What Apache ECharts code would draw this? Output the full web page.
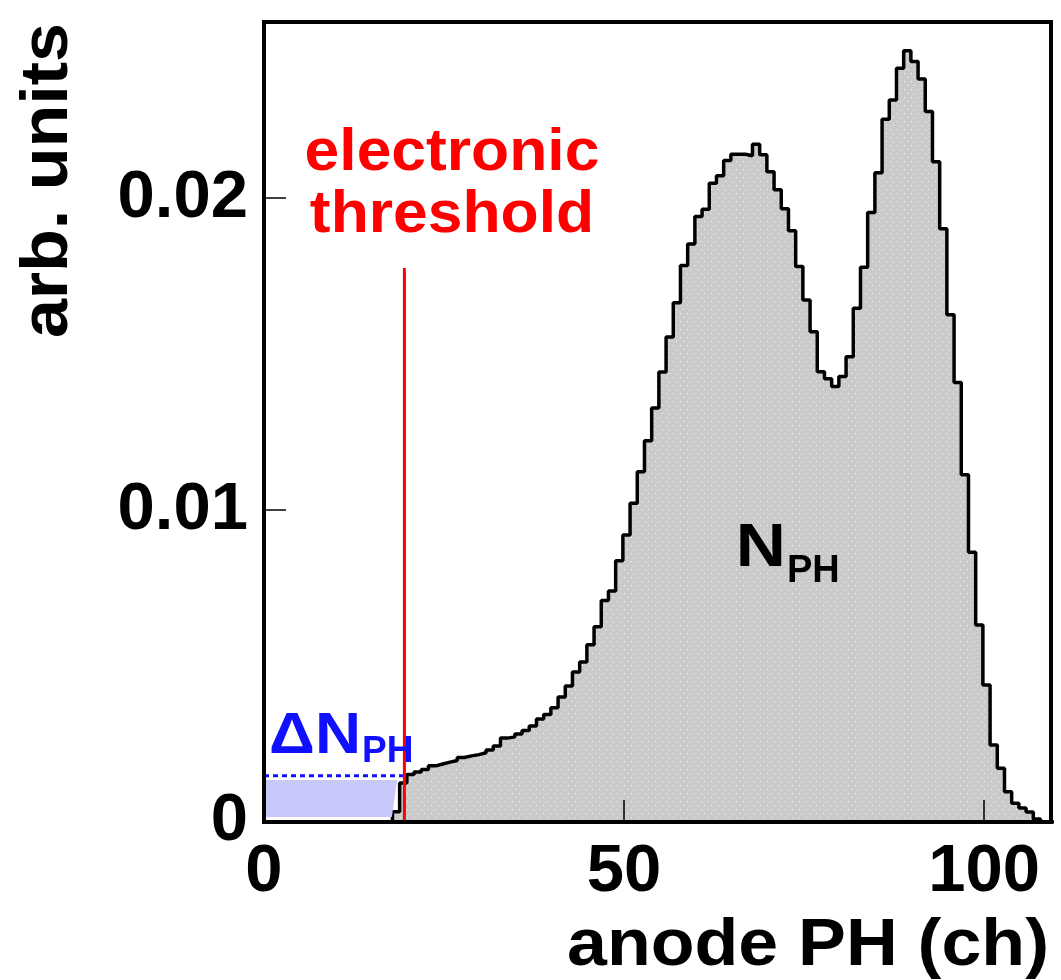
<!DOCTYPE html>
<html>
<head>
<meta charset="utf-8">
<script src="https://cdn.jsdelivr.net/npm/echarts@6/dist/echarts.min.js"></script>
<style>
  html, body { margin: 0; padding: 0; background: #ffffff; }
  #chart { width: 1061px; height: 980px; }
</style>
</head>
<body>
<div id="chart"></div>
<script>
// Anode pulse-height spectrum, one bin per channel.
// Bin k covers [k + BIN_LOW_EDGE, k + 1 + BIN_LOW_EDGE).
const BIN_LOW_EDGE = -0.16;
const counts = [
  0, 0, 0, 0, 0, 0, 0, 0, 0, 0,                                              // 0-9
  0, 0, 0, 0, 0, 0, 0, 0, 0.00033, 0.00125,                                    // 10-19
  0.00152, 0.00160, 0.00168, 0.00180, 0.00186, 0.00192, 0.00197, 0.00207, 0.00212, 0.00216, // 20-29
  0.00222, 0.00231, 0.00244, 0.00269, 0.00273, 0.00282, 0.00293, 0.00308, 0.00330, 0.00345, // 30-39
  0.00366, 0.00401, 0.00436, 0.00481, 0.00513, 0.00568, 0.00626, 0.00710, 0.00741, 0.00838, // 40-49
  0.00920, 0.01022, 0.01123, 0.01222, 0.01327, 0.01443, 0.01555, 0.01665, 0.01784, 0.01853, // 50-59
  0.01941, 0.01965, 0.02048, 0.02072, 0.02121, 0.02141, 0.02141, 0.02136, 0.02173, 0.02139, // 60-69
  0.02085, 0.02027, 0.01966, 0.01896, 0.01781, 0.01674, 0.01572, 0.01444, 0.01421, 0.01396, // 70-79
  0.01428, 0.01492, 0.01647, 0.01779, 0.01954, 0.02082, 0.02253, 0.02315, 0.02417, 0.02473, // 80-89
  0.02438, 0.02382, 0.02278, 0.02117, 0.01902, 0.01626, 0.01409, 0.01113, 0.00865, 0.00632, // 90-99
  0.00439, 0.00247, 0.00172, 0.00097, 0.00060, 0.00045, 0.00032, 0.00010, 0, 0  // 100-109
];

// Electronic threshold and the missing part below it
const thresholdChannel = 19.5;
const thresholdLineTop = 0.01776;
const deltaLevel = 0.00148;
const deltaAreaX = [0, 18.5, 17.75, 0];
const deltaAreaY = [0.00135, 0.00135, 0.00016, 0.00016];

// Axis ranges and ticks
const xRange = [0, 109.3];
const yRange = [0, 0.02565];
const xTickStep = 50;
const yTickStep = 0.01;

// Text
const xTitle = 'anode PH (ch)';
const yTitle = 'arb. units';
const thresholdText = ['electronic', 'threshold'];

// Step outline points at the bin edges
const stepPoints = counts.map((v, k) => [k + BIN_LOW_EDGE, v]);
stepPoints.push([counts.length + BIN_LOW_EDGE, 0]);

// Dotted grey fill
const tile = document.createElement('canvas');
tile.width = 7; tile.height = 8;
const tctx = tile.getContext('2d');
tctx.fillStyle = '#cacaca';
tctx.fillRect(0, 0, 7, 8);
tctx.fillStyle = '#f4f4f4';
tctx.fillRect(1, 1, 1, 1);
tctx.fillRect(4, 5, 1, 1);

const FONT = '"Liberation Sans", Arial, Helvetica, sans-serif';
const frameLine = { show: true, onZero: false, lineStyle: { color: '#000', width: 4, cap: 'square' } };

const chart = echarts.init(document.getElementById('chart'), null, { renderer: 'canvas' });
chart.setOption({
  animation: false,
  backgroundColor: '#ffffff',
  grid: { left: 264, right: 10, top: 22, bottom: 158, containLabel: false },
  xAxis: [
    {
      type: 'value', position: 'bottom', min: xRange[0], max: xRange[1], interval: xTickStep,
      axisLine: frameLine,
      axisTick: { show: true, inside: true, length: 22, lineStyle: { color: '#000', width: 1.5 } },
      axisLabel: { color: '#000', fontSize: 67, fontWeight: 'bold', fontFamily: FONT, margin: 17,
                   showMinLabel: true, showMaxLabel: false },
      splitLine: { show: false }, z: 10
    },
    {
      type: 'value', position: 'top', min: xRange[0], max: xRange[1],
      axisLine: frameLine, axisTick: { show: false }, axisLabel: { show: false },
      splitLine: { show: false }, z: 10
    }
  ],
  yAxis: [
    {
      type: 'value', position: 'left', min: yRange[0], max: yRange[1], interval: yTickStep,
      axisLine: frameLine,
      axisTick: { show: true, inside: true, length: 22, lineStyle: { color: '#000', width: 1.5 } },
      axisLabel: { color: '#000', fontSize: 67, fontWeight: 'bold', fontFamily: FONT, margin: 16,
                   showMaxLabel: false },
      splitLine: { show: false }, z: 10
    },
    {
      type: 'value', position: 'right', min: yRange[0], max: yRange[1],
      axisLine: frameLine, axisTick: { show: false }, axisLabel: { show: false },
      splitLine: { show: false }, z: 10
    }
  ],
  series: [
    {
      name: 'spectrum', type: 'line', xAxisIndex: 0, yAxisIndex: 0, z: 2,
      data: stepPoints, step: 'end', symbol: 'none',
      lineStyle: { color: '#000', width: 3.5 },
      areaStyle: { color: { image: tile, repeat: 'repeat' }, opacity: 1 }
    },
    {
      name: 'deltaArea', type: 'custom', xAxisIndex: 0, yAxisIndex: 0, z: 3,
      data: [0],
      renderItem: function (params, api) {
        const pts = deltaAreaX.map((x, i) => api.coord([x, deltaAreaY[i]]));
        return { type: 'polygon', shape: { points: pts }, style: { fill: '#c8c8fa', stroke: null } };
      }
    },
    {
      name: 'deltaLevel', type: 'line', xAxisIndex: 0, yAxisIndex: 0, z: 3, symbol: 'none',
      data: [[0, deltaLevel], [thresholdChannel, deltaLevel]],
      lineStyle: { color: '#1010ff', width: 3, type: [5, 4] }
    },
    {
      name: 'threshold', type: 'line', xAxisIndex: 0, yAxisIndex: 0, z: 4, symbol: 'none',
      data: [[thresholdChannel, 0], [thresholdChannel, thresholdLineTop]],
      lineStyle: { color: '#ff0000', width: 3 }
    }
  ],
  graphic: [
    { type: 'text', x: 49, y: 23, rotation: Math.PI / 2, scaleX: 1.045, z: 20,
      style: { text: yTitle, fill: '#000', font: 'bold 67px ' + FONT, align: 'right', verticalAlign: 'middle' } },
    { type: 'text', x: 1049, y: 947, scaleX: 1.07, z: 20,
      style: { text: xTitle, fill: '#000', font: 'bold 67px ' + FONT, align: 'right', verticalAlign: 'middle' } },
    { type: 'text', x: 452, y: 153, scaleX: 1.04, z: 20,
      style: { text: thresholdText[0], fill: '#ff0000', font: 'bold 60px ' + FONT, align: 'center', verticalAlign: 'middle' } },
    { type: 'text', x: 452, y: 215, scaleX: 1.04, z: 20,
      style: { text: thresholdText[1], fill: '#ff0000', font: 'bold 60px ' + FONT, align: 'center', verticalAlign: 'middle' } },
    { type: 'text', x: 361, y: 737, scaleX: 1.1, z: 20,
      style: { text: 'ΔN', fill: '#1010ff', font: 'bold 58px ' + FONT, align: 'right', verticalAlign: 'middle' } },
    { type: 'text', x: 362, y: 752, z: 20,
      style: { text: 'PH', fill: '#1010ff', font: 'bold 37px ' + FONT, align: 'left', verticalAlign: 'middle' } },
    { type: 'text', x: 786, y: 549, scaleX: 1.12, z: 20,
      style: { text: 'N', fill: '#000', font: 'bold 62px ' + FONT, align: 'right', verticalAlign: 'middle' } },
    { type: 'text', x: 787, y: 572, z: 20,
      style: { text: 'PH', fill: '#000', font: 'bold 38px ' + FONT, align: 'left', verticalAlign: 'middle' } }
  ]
});
</script>
</body>
</html>
